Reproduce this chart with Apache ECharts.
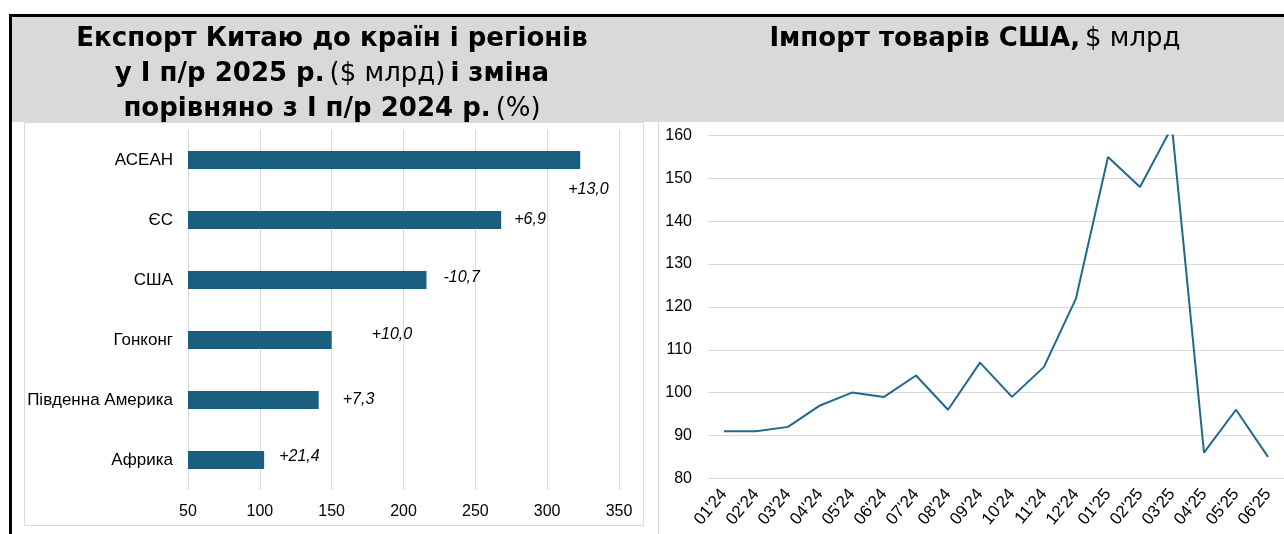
<!DOCTYPE html>
<html>
<head>
<meta charset="utf-8">
<script src="https://cdn.jsdelivr.net/npm/echarts@6/dist/echarts.min.js"></script>
<style>
  html, body { margin: 0; padding: 0; background: #fff; }
  #chart { width: 1284px; height: 534px; }
</style>
</head>
<body>
<div id="chart"></div>
<script>
// експорт Китаю, $ млрд, і зміна у %
const regions = ['АСЕАН', 'ЄС', 'США', 'Гонконг', 'Південна Америка', 'Африка']
const exportValues = [323, 268, 216, 150, 141, 103]
const exportChange = ['+13,0', '+6,9', '-10,7', '+10,0', '+7,3', '+21,4']
const exportTicks = [50, 100, 150, 200, 250, 300, 350]

// імпорт США, $ млрд
const months = ["01'24", "02'24", "03'24", "04'24", "05'24", "06'24", "07'24", "08'24", "09'24",
  "10'24", "11'24", "12'24", "01'25", "02'25", "03'25", "04'25", "05'25", "06'25"]
const importValues = [91, 91, 92, 97, 100, 99, 104, 96, 107, 99, 106, 122, 155, 148, 162, 86, 96, 85]
const importTicks = [80, 90, 100, 110, 120, 130, 140, 150, 160]

const theme = {
  text: '#000',
  grid: '#d9d9d9',
  header: '#d9d9d9',
  bar: '#1a5f80',
  line: '#1f6a8b',
  font: 'Liberation Sans',
  titleFont: 'DejaVu Sans'
}

// зсув підписів, як вони розставлені вручну на оригіналі
const labelShift = [[-17, 30], [8, 0], [12, -2], [35, -5], [19, 0], [10, -3]]

const titleRich = {
  b: { fontFamily: theme.titleFont, fontWeight: 'bold', fontSize: 26, lineHeight: 35, color: theme.text },
  n: { fontFamily: theme.titleFont, fontWeight: 'normal', fontSize: 26, lineHeight: 35, color: theme.text }
}

const chart = echarts.init(document.getElementById('chart'))

chart.setOption({
  animation: false,
  graphic: [
    { type: 'rect', z: -10, shape: { x: 12, y: 16, width: 1272, height: 106 }, style: { fill: theme.header } },
    { type: 'rect', z: -10, shape: { x: 9, y: 14, width: 1275, height: 3 }, style: { fill: '#000' } },
    { type: 'rect', z: -10, shape: { x: 9, y: 14, width: 3, height: 520 }, style: { fill: '#000' } },
    { type: 'rect', z: -10, shape: { x: 24.5, y: 122.5, width: 619, height: 403 }, style: { fill: 'none', stroke: theme.grid, lineWidth: 1 } },
    { type: 'line', z: -10, shape: { x1: 658.5, y1: 122, x2: 658.5, y2: 534 }, style: { stroke: theme.grid, lineWidth: 1 } }
  ],
  title: [
    {
      left: 327, top: 17, textAlign: 'center',
      text: '{b|Експорт Китаю до країн і регіонів}\n{b|у I п/р 2025 р.} {n|($ млрд)} {b|і зміна}\n{b|порівняно з I п/р 2024 р.} {n|(%)}',
      textStyle: { rich: titleRich }
    },
    {
      left: 970, top: 17, textAlign: 'center',
      text: '{b|Імпорт товарів США,} {n|$ млрд}',
      textStyle: { rich: titleRich }
    }
  ],
  grid: [
    { left: 188, right: 665, top: 130, bottom: 44 },
    { left: 708, right: 0, top: 135.5, bottom: 55.7 }
  ],
  xAxis: [
    {
      gridIndex: 0,
      type: 'value',
      min: exportTicks[0],
      max: exportTicks[exportTicks.length - 1],
      interval: exportTicks[1] - exportTicks[0],
      axisLine: { show: false },
      axisTick: { show: false },
      axisLabel: { color: theme.text, fontFamily: theme.font, fontSize: 16, margin: 14 },
      splitLine: { lineStyle: { color: theme.grid } }
    },
    {
      gridIndex: 1,
      type: 'category',
      data: months,
      boundaryGap: true,
      axisLine: { show: false },
      axisTick: { show: false },
      axisLabel: { color: theme.text, fontFamily: theme.font, fontSize: 17, rotate: 50, interval: 0, margin: 13 }
    }
  ],
  yAxis: [
    {
      gridIndex: 0,
      type: 'category',
      data: regions,
      inverse: true,
      axisLine: { show: false },
      axisTick: { show: false },
      axisLabel: { color: theme.text, fontFamily: theme.font, fontSize: 17, margin: 15 }
    },
    {
      gridIndex: 1,
      type: 'value',
      min: importTicks[0],
      max: importTicks[importTicks.length - 1],
      interval: importTicks[1] - importTicks[0],
      axisLine: { show: false },
      axisTick: { show: false },
      axisLabel: { color: theme.text, fontFamily: theme.font, fontSize: 16, margin: 16 },
      splitLine: { lineStyle: { color: theme.grid } }
    }
  ],
  series: [
    {
      type: 'bar',
      xAxisIndex: 0,
      yAxisIndex: 0,
      barWidth: 18,
      itemStyle: { color: theme.bar },
      data: exportValues.map((v, i) => ({
        value: v,
        label: { offset: labelShift[i] }
      })),
      label: {
        show: true,
        position: 'right',
        distance: 5,
        color: theme.text,
        fontFamily: theme.font,
        fontSize: 16,
        fontStyle: 'italic',
        formatter: p => exportChange[p.dataIndex]
      }
    },
    {
      type: 'line',
      xAxisIndex: 1,
      yAxisIndex: 1,
      data: importValues,
      showSymbol: false,
      clip: true,
      lineStyle: { color: theme.line, width: 2 },
      itemStyle: { color: theme.line }
    }
  ]
})
</script>
</body>
</html>
